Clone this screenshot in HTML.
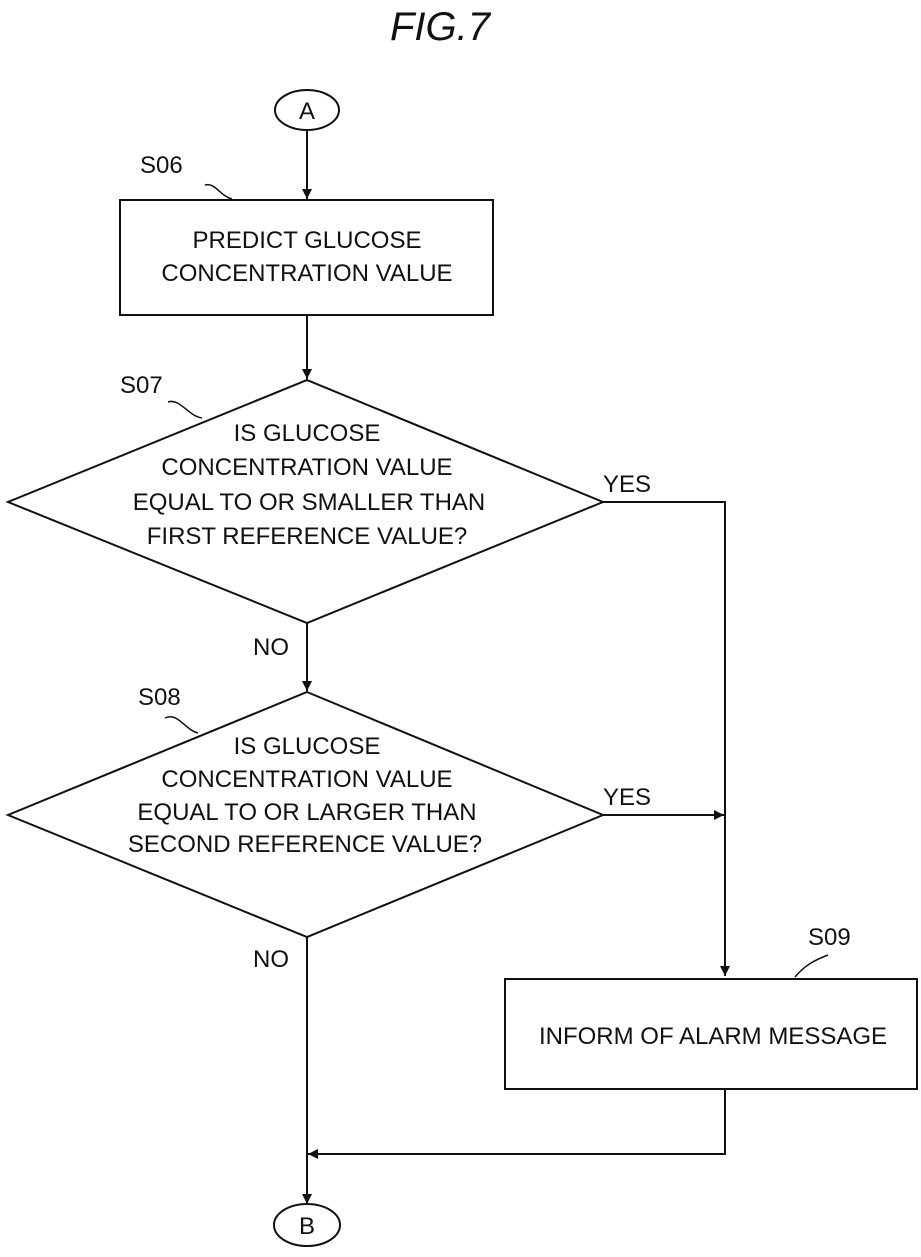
<!DOCTYPE html>
<html><head><meta charset="utf-8"><style>
body{margin:0;background:#fff;}
svg text{font-family:"Liberation Sans",sans-serif;fill:#111;}
</style></head><body>
<svg width="921" height="1252" viewBox="0 0 921 1252" xmlns="http://www.w3.org/2000/svg">
<defs><marker id="a" markerWidth="12" markerHeight="12" refX="10" refY="5" orient="auto" markerUnits="userSpaceOnUse"><path d="M0,0 L10,5 L0,10 Z" fill="#111"/></marker></defs>
<g stroke="#111" stroke-width="2" fill="none">
<ellipse cx="307" cy="110" rx="32" ry="20"/>
<line x1="307" y1="130" x2="307" y2="199" marker-end="url(#a)"/>
<rect x="120" y="200" width="373" height="115"/>
<line x1="307" y1="315" x2="307" y2="379" marker-end="url(#a)"/>
<polygon points="307,380 603,502 307,623 8,502"/>
<polyline points="603,502 725,502 725,976" marker-end="url(#a)"/>
<line x1="307" y1="623" x2="307" y2="691" marker-end="url(#a)"/>
<polygon points="307,692 603,815 307,937 8,815"/>
<line x1="603" y1="815" x2="724" y2="815" marker-end="url(#a)"/>
<line x1="307" y1="937" x2="307" y2="1204" marker-end="url(#a)"/>
<rect x="505" y="979" width="412" height="110"/>
<polyline points="725,1089 725,1154 308,1154" marker-end="url(#a)"/>
<ellipse cx="307" cy="1225" rx="33" ry="21"/>
<path d="M205,185 C215,182 220,196 232,199" stroke-width="1.5"/>
<path d="M168,402 C180,398 188,416 202,418" stroke-width="1.5"/>
<path d="M165,718 C178,712 185,730 198,733" stroke-width="1.5"/>
<path d="M828,955 C815,960 805,965 795,977" stroke-width="1.5"/>
</g>
<text x="440" y="40" font-size="40" font-style="italic" text-anchor="middle">FIG.7</text>
<text x="307" y="119" font-size="24" text-anchor="middle">A</text>
<text x="307" y="1234" font-size="24" text-anchor="middle">B</text>
<g font-size="24">
<text x="140" y="173">S06</text>
<text x="120" y="393">S07</text>
<text x="138" y="705">S08</text>
<text x="808" y="945">S09</text>
<text x="603" y="492">YES</text>
<text x="603" y="805">YES</text>
<text x="253" y="655">NO</text>
<text x="253" y="967">NO</text>
</g>
<g font-size="24" text-anchor="middle">
<text x="307" y="248">PREDICT GLUCOSE</text>
<text x="307" y="281">CONCENTRATION VALUE</text>
<text x="307" y="441">IS GLUCOSE</text>
<text x="307" y="475">CONCENTRATION VALUE</text>
<text x="309" y="510">EQUAL TO OR SMALLER THAN</text>
<text x="307" y="544">FIRST REFERENCE VALUE?</text>
<text x="307" y="754">IS GLUCOSE</text>
<text x="307" y="787">CONCENTRATION VALUE</text>
<text x="307" y="820">EQUAL TO OR LARGER THAN</text>
<text x="305" y="852">SECOND REFERENCE VALUE?</text>
<text x="713" y="1044">INFORM OF ALARM MESSAGE</text>
</g>
</svg>
</body></html>
